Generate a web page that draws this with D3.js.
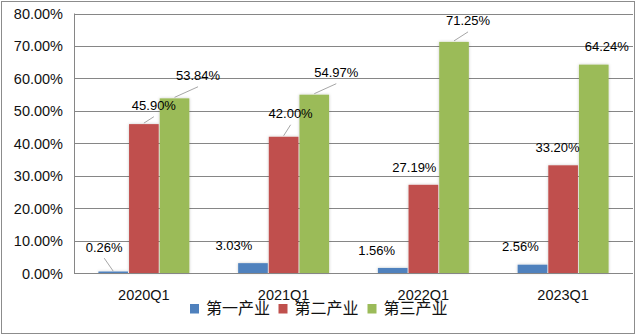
<!DOCTYPE html>
<html>
<head>
<meta charset="utf-8">
<script src="https://cdn.jsdelivr.net/npm/d3@7"></script>
<style>
  html, body { margin: 0; padding: 0; background: #fff; }
  svg { display: block; }
</style>
</head>
<body>
<svg id="chart" width="638" height="335"></svg>
<script>
// Quarterly share of each industry sector
const categories = ["2020Q1", "2021Q1", "2022Q1", "2023Q1"];
const seriesNames = ["第一产业", "第二产业", "第三产业"];
const primary   = [0.0026, 0.0303, 0.0156, 0.0256];
const secondary = [0.4590, 0.4200, 0.2719, 0.3320];
const tertiary  = [0.5384, 0.5497, 0.7125, 0.6424];
const yTicks = [0, 0.1, 0.2, 0.3, 0.4, 0.5, 0.6, 0.7, 0.8];

const seriesValues = [primary, secondary, tertiary];
const colors = ["#4F81BD", "#C0504D", "#9BBB59"];

// Hand-placed data label offsets (from the bar's top centre) and leader lines
const labelDx = [[-9, -19, -16, -12], [10, 7, -9, -5.6], [23.5, 22, 14, 13]];
const labelDy = [[-25, -18, -17, -18], [-18.4, -23, -17, -17.6], [-22.6, -22, -21, -18]];
const leader  = [[true, false, false, false], [true, true, false, false], [true, true, true, false]];

const svg = d3.select("#chart");
const plotLeft = 74, plotRight = 633, plotTop = 13.5, plotBottom = 273;

const x0 = d3.scaleBand().domain(categories).range([plotLeft, plotRight])
  .paddingInner(0.342).paddingOuter(0.171);
const x1 = d3.scaleBand().domain(d3.range(seriesNames.length)).range([0, x0.bandwidth()]);
const y = d3.scaleLinear().domain([0, 0.8]).range([plotBottom, plotTop]);

const defs = svg.append("defs");
const f = defs.append("filter").attr("id", "shadow")
  .attr("x", "-30%").attr("y", "-5%").attr("width", "160%").attr("height", "110%");
f.append("feDropShadow").attr("dx", 0).attr("dy", 0).attr("stdDeviation", 1.6)
  .attr("flood-color", "#000").attr("flood-opacity", 0.22);

// outer frame
svg.append("rect").attr("x", 1.5).attr("y", 1.5).attr("width", 633).attr("height", 332)
  .attr("fill", "#fff").attr("stroke", "#8c8c8c").attr("stroke-width", 1);

// gridlines
svg.append("g").selectAll("line").data(yTicks.slice(1)).join("line")
  .attr("x1", plotLeft).attr("x2", plotRight)
  .attr("y1", d => Math.round(y(d)) + 0.5).attr("y2", d => Math.round(y(d)) + 0.5)
  .attr("stroke", "#868686").attr("stroke-width", 1);

// y tick labels
const fmt = d3.format(".2%");
svg.append("g").selectAll("text").data(yTicks).join("text")
  .attr("x", 63).attr("y", d => y(d) + 5.5)
  .attr("text-anchor", "end")
  .attr("font-family", "Liberation Sans, Arial, sans-serif")
  .attr("font-size", 14.5).attr("fill", "#111")
  .text(d => fmt(d));

// bars
const bars = [];
categories.forEach((c, i) => {
  seriesValues.forEach((vals, s) => {
    bars.push({ c, i, s, v: vals[i] });
  });
});

svg.append("g").attr("filter", "url(#shadow)").selectAll("rect").data(bars).join("rect")
  .attr("x", d => x0(d.c) + x1(d.s) + 0.5)
  .attr("width", x1.bandwidth() - 1)
  .attr("y", d => Math.min(y(d.v), y(0) - 1.5))
  .attr("height", d => Math.max(y(0) - y(d.v), 1.5))
  .attr("fill", d => colors[d.s]);

// axes lines
svg.append("line").attr("x1", plotLeft + 0.5).attr("x2", plotLeft + 0.5).attr("y1", plotTop).attr("y2", plotBottom)
  .attr("stroke", "#868686");
svg.append("line").attr("x1", plotLeft).attr("x2", plotRight).attr("y1", plotBottom + 0.5).attr("y2", plotBottom + 0.5)
  .attr("stroke", "#868686");

// data labels and leader lines
const lab = svg.append("g");
bars.forEach(d => {
  const cx = x0(d.c) + x1(d.s) + x1.bandwidth() / 2;
  const ty = y(d.v);
  const lx = cx + labelDx[d.s][d.i];
  const ly = ty + labelDy[d.s][d.i];
  if (leader[d.s][d.i]) {
    lab.append("line").attr("x1", cx).attr("y1", ty - 1).attr("x2", lx).attr("y2", ly + 11)
      .attr("stroke", "#a6a6a6").attr("stroke-width", 1);
  }
  lab.append("text").attr("x", lx).attr("y", ly + 4.5)
    .attr("text-anchor", "middle")
    .attr("font-family", "Liberation Sans, Arial, sans-serif")
    .attr("font-size", 13).attr("fill", "#000")
    .text(fmt(d.v));
});

// category labels
svg.append("g").selectAll("text").data(categories).join("text")
  .attr("x", d => x0(d) + x0.bandwidth() / 2).attr("y", 299.5)
  .attr("text-anchor", "middle")
  .attr("font-family", "Liberation Sans, Arial, sans-serif")
  .attr("font-size", 14.5).attr("fill", "#111")
  .text(d => d);

// legend
const legendX = [190, 278.5, 367.5];
const lg = svg.append("g");
seriesNames.forEach((n, s) => {
  lg.append("rect").attr("x", legendX[s]).attr("y", 304).attr("width", 9).attr("height", 9.5)
    .attr("fill", colors[s]);
  lg.append("text").attr("x", legendX[s] + 16).attr("y", 313.5)
    .attr("font-family", "Noto Sans CJK SC, sans-serif")
    .attr("font-size", 16).attr("fill", "#111")
    .text(n);
});
</script>
</body>
</html>
